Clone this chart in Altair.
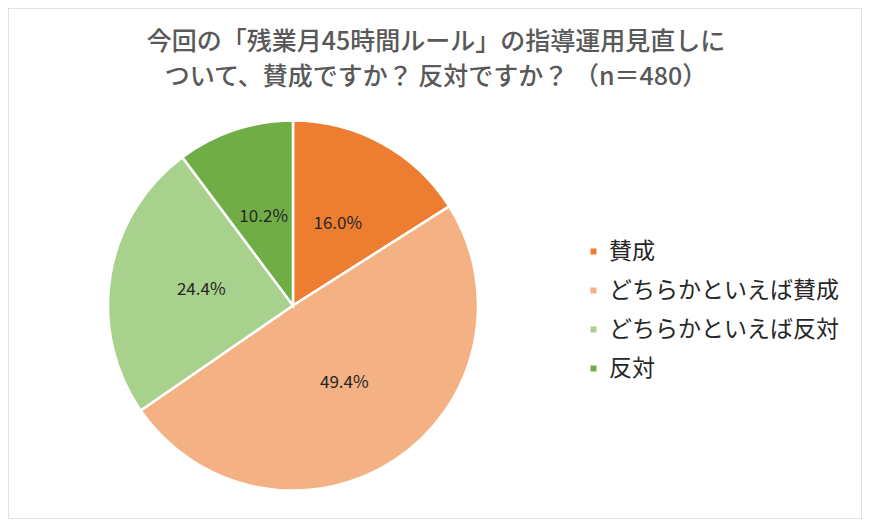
import pandas as pd
import altair as alt

# Survey data (n=480)
TITLE_LINES = [
    "今回の「残業月45時間ルール」の指導運用見直しに",
    "ついて、賛成ですか？ 反対ですか？ （n＝480）",
]
CATEGORIES = ["賛成", "どちらかといえば賛成", "どちらかといえば反対", "反対"]
VALUES = [16.0, 49.4, 24.4, 10.2]
COLORS = ["#ED7D31", "#F4B183", "#A9D18E", "#70AD47"]

FONT = "Noto Sans CJK JP"

pie_data = pd.DataFrame({
    "category": CATEGORIES,
    "value": VALUES,
    "order": list(range(len(CATEGORIES))),
})
pie_data["label"] = pie_data["value"].map(lambda v: f"{v:.1f}%")

cx, cy = 285, 297.5

base = alt.Chart(pie_data).encode(
    theta=alt.Theta("value:Q", stack=True),
    order=alt.Order("order:Q"),
    x=alt.value(cx),
    y=alt.value(cy),
)

arcs = base.mark_arc(outerRadius=185, stroke="white", strokeWidth=2.5).encode(
    color=alt.Color(
        "category:N",
        sort=CATEGORIES,
        scale=alt.Scale(domain=CATEGORIES, range=COLORS),
        legend=alt.Legend(
            title=None,
            orient="none",
            legendX=574,
            legendY=232,
            labelFont=FONT,
            labelFontSize=23,
            labelColor="#262626",
            labelLimit=400,
            labelOffset=4,
            symbolType="square",
            symbolSize=36,
            symbolStrokeWidth=0,
            rowPadding=15,
            padding=0,
        ),
    )
)

labels = base.mark_text(radius=93, font=FONT, fontSize=17, color="#262626").encode(
    text="label:N"
)

title = alt.Chart(pd.DataFrame({"t": [0]})).mark_text(
    text=TITLE_LINES,
    font=FONT,
    fontSize=25,
    fontWeight=500,
    color="#595959",
    align="center",
    baseline="middle",
    lineHeight=35,
).encode(x=alt.value(428), y=alt.value(34))

chart = (
    alt.layer(arcs, labels, title)
    .properties(
        width=854,
        height=511,
        autosize=alt.AutoSizeParams(type="none"),
        padding=0,
        background="white",
    )
    .configure_view(stroke="#D9D9D9", strokeWidth=1.5)
)

chart.save("out.html", embed_options={"renderer": "svg", "actions": False})
